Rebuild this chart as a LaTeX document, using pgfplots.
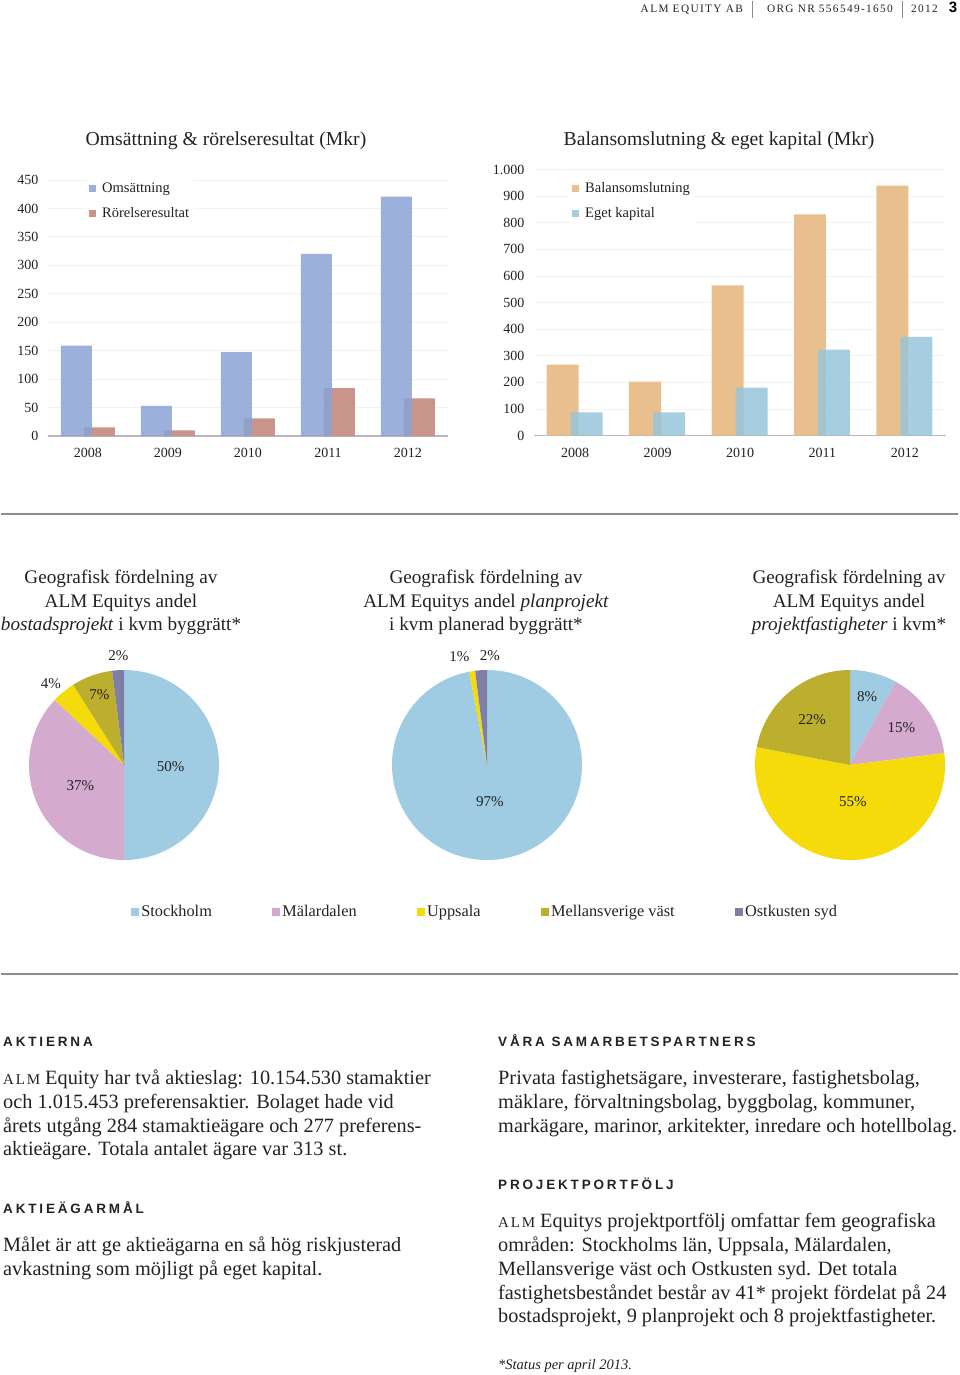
\documentclass[border=0pt]{standalone}
\usepackage{fontspec}
\setmainfont{Liberation Serif}
\newfontfamily\headsans[LetterSpace=21]{Liberation Sans}
\newfontfamily\scfont[LetterSpace=12]{Liberation Serif}
\newfontfamily\plainsans{Liberation Sans}
\usepackage{pgfplots}
\pgfplotsset{compat=1.18}
\pgfplotsset{/pgf/number format/assume math mode=true}
\newcommand{\fs}[1]{\fontsize{#1}{#1}\selectfont}
\newcommand{\alm}{{\scfont\fs{15}ALM}}

\definecolor{omsc}{HTML}{89A2D3}
\definecolor{rorc}{HTML}{C9958B}
\definecolor{balc}{HTML}{E9C08D}
\definecolor{egc}{HTML}{97C5DA}
\definecolor{sthlm}{HTML}{9FCCE2}
\definecolor{malar}{HTML}{D4AACE}
\definecolor{upps}{HTML}{F6DB0B}
\definecolor{mell}{HTML}{BDAF2E}
\definecolor{ostk}{HTML}{7F7EA6}
\definecolor{txt}{HTML}{222222}

\newcommand{\pieslices}[1]{%
  \pgfplotsextra{%
    \def\curang{90}%
    \foreach \v/\c in {#1}{%
      \pgfmathsetmacro\nextang{\curang-3.6*\v}%
      \fill[\c] (axis cs:0,0) -- ++(\curang:95pt) arc[start angle=\curang,end angle=\nextang,radius=95pt] -- cycle;
      \xdef\curang{\nextang}%
    }%
  }}

\pgfplotsset{
  barchart/.style={
    scale only axis,
    xmin=-0.5, xmax=4.5, ymin=0,
    xtick={0,1,2,3,4}, xticklabels={2008,2009,2010,2011,2012},
    axis lines*=left, separate axis lines,
    x axis line style={draw=black!28, line width=1.3pt},
    y axis line style={draw=none},
    major tick length=0pt,
    ymajorgrids, grid style={draw=black!5, line width=0.8pt},
    tick label style={font=\fs{14}, text=txt},
    yticklabel style={xshift=-6pt},
    xticklabel style={yshift=-9pt},
    legend style={anchor=north west, draw=none, fill=white, font=\fs{14.5}, row sep=9pt, inner sep=3pt, text=txt},
    legend cell align=left,
    legend image code/.code={\fill[##1] (0pt,-3.5pt) rectangle (7pt,3.5pt); \path (11pt,0pt);},
  },
  pieaxis/.style={scale only axis, width=190pt, height=190pt, xmin=-1, xmax=1, ymin=-1, ymax=1, hide axis, clip=false},
}

\begin{document}
\begin{tikzpicture}
\path[use as bounding box] (0pt,0pt) rectangle (960pt,-1375pt);

% ---------- header ----------
\node[anchor=base east, inner sep=0, text=txt] at (743pt,-13pt) {\scfont\fs{11.3}ALM EQUITY AB};
\node[anchor=base east, inner sep=0, text=txt] at (893pt,-13pt) {\scfont\fs{11.3}ORG NR 556549-1650};
\node[anchor=base west, inner sep=0, text=txt] at (911pt,-13pt) {\scfont\fs{11.3}2012};
\node[anchor=base east, inner sep=0, text=black] at (957.5pt,-13pt) {\plainsans\bfseries\fs{15}3};
\draw[black!45, line width=0.8pt] (752pt,-1pt) -- (752pt,-18pt);
\draw[black!45, line width=0.8pt] (902pt,-1pt) -- (902pt,-18pt);

% ---------- chart titles ----------
\node[text=txt, inner sep=0] at (226pt,-141pt) {\fs{19.7}Omsättning \& rörelseresultat (Mkr)};
\node[text=txt, inner sep=0] at (719pt,-141pt) {\fs{19.7}Balansomslutning \& eget kapital (Mkr)};

% ---------- chart 1 ----------
\begin{axis}[barchart,
  at={(48pt,-436pt)}, anchor=south west,
  width=400pt, height=256pt, ymax=450,
  ytick={0,50,...,450},
  legend style={at={(0.095,1.008)}},
  reverse legend,
]
\addplot[ybar, bar width=31pt, bar shift=11.5pt, fill=rorc, draw=none] coordinates {(0,15) (1,10) (2,31) (3,84) (4,66)};
\addlegendentry{Rörelseresultat}
\addplot[ybar, bar width=31pt, bar shift=-11.5pt, fill=omsc, fill opacity=0.85, draw=none] coordinates {(0,159) (1,53) (2,147.5) (3,320) (4,421)};
\addlegendentry{Omsättning}
\end{axis}

% ---------- chart 2 ----------
\begin{axis}[barchart,
  at={(534pt,-435.5pt)}, anchor=south west,
  width=412pt, height=266pt, ymax=1000,
  ytick={0,100,...,1000},
  /pgf/number format/1000 sep={.},
  legend style={at={(0.085,0.97)}},
]
\addplot[ybar, bar width=32pt, bar shift=-12.5pt, fill=balc, draw=none] coordinates {(0,266) (1,203) (2,564) (3,831) (4,939)};
\addlegendentry{Balansomslutning}
\addplot[ybar, bar width=32pt, bar shift=11.5pt, fill=egc, fill opacity=0.85, draw=none] coordinates {(0,86.5) (1,86.5) (2,180) (3,323) (4,371)};
\addlegendentry{Eget kapital}
\end{axis}

% ---------- separators ----------
\draw[black!45, line width=1.5pt] (1pt,-514pt) -- (958pt,-514pt);
\draw[black!45, line width=1.5pt] (1pt,-974pt) -- (958pt,-974pt);

% ---------- pie titles ----------
\node[anchor=north, align=center, inner sep=0, text=txt, font=\fs{19.2}, execute at begin node=\setlength{\baselineskip}{23.5pt}] at (121pt,-570pt)
  {Geografisk fördelning av\\ALM Equitys andel\\\textit{bostadsprojekt} i kvm byggrätt*};
\node[anchor=north, align=center, inner sep=0, text=txt, font=\fs{19.2}, execute at begin node=\setlength{\baselineskip}{23.5pt}] at (486pt,-570pt)
  {Geografisk fördelning av\\ALM Equitys andel \textit{planprojekt}\\i kvm planerad byggrätt*};
\node[anchor=north, align=center, inner sep=0, text=txt, font=\fs{19.2}, execute at begin node=\setlength{\baselineskip}{23.5pt}] at (849pt,-570pt)
  {Geografisk fördelning av\\ALM Equitys andel\\\textit{projektfastigheter} i kvm*};

% ---------- pie 1 ----------
\begin{axis}[pieaxis, at={(29pt,-860pt)}, anchor=south west]
\pieslices{50/sthlm,37/malar,4/upps,7/mell,2/ostk}
\node[font=\fs{15}, text=txt] at (axis cs:0.49,-0.02) {50\%};
\node[font=\fs{15}, text=txt] at (axis cs:-0.46,-0.22) {37\%};
\node[font=\fs{15}, text=txt] at (axis cs:-0.26,0.74) {7\%};
\node[font=\fs{15}, text=txt] at (axis cs:-0.77,0.86) {4\%};
\node[font=\fs{15}, text=txt] at (axis cs:-0.06,1.15) {2\%};
\end{axis}

% ---------- pie 2 ----------
\begin{axis}[pieaxis, at={(392pt,-860pt)}, anchor=south west,
  legend columns=5,
  legend style={at={(-1.389,-0.274)}, anchor=west, draw=none, fill=none, font=\fs{16.3}, text=txt,
    /tikz/every even column/.append style={column sep=58.5pt}},
  legend image code/.code={\fill[#1] (0pt,-4pt) rectangle (8pt,4pt);},
]
\pieslices{97/sthlm,1/upps,2/ostk}
\node[font=\fs{15}, text=txt] at (axis cs:0.03,-0.39) {97\%};
\node[font=\fs{15}, text=txt] at (axis cs:-0.29,1.14) {1\%};
\node[font=\fs{15}, text=txt] at (axis cs:0.03,1.15) {2\%};
\addlegendimage{fill=sthlm, draw=none}\addlegendentry{Stockholm}
\addlegendimage{fill=malar, draw=none}\addlegendentry{Mälardalen}
\addlegendimage{fill=upps, draw=none}\addlegendentry{Uppsala}
\addlegendimage{fill=mell, draw=none}\addlegendentry{Mellansverige väst}
\addlegendimage{fill=ostk, draw=none}\addlegendentry{Ostkusten syd}
\end{axis}

% ---------- pie 3 ----------
\begin{axis}[pieaxis, at={(755pt,-860pt)}, anchor=south west]
\pieslices{8/sthlm,15/malar,55/upps,22/mell}
\node[font=\fs{15}, text=txt] at (axis cs:0.18,0.72) {8\%};
\node[font=\fs{15}, text=txt] at (axis cs:0.54,0.39) {15\%};
\node[font=\fs{15}, text=txt] at (axis cs:-0.40,0.48) {22\%};
\node[font=\fs{15}, text=txt] at (axis cs:0.03,-0.39) {55\%};
\end{axis}

% ---------- text columns ----------
\begin{scope}[every node/.style={anchor=base west, inner sep=0, text=txt}]
\node at (3pt,-1046pt) {\headsans\bfseries\fs{13.5}AKTIERNA};
\node at (3pt,-1084pt) {\fs{20.3}\alm{} Equity har två aktieslag: 10.154.530 stamaktier};
\node at (3pt,-1108pt) {\fs{20.3}och 1.015.453 preferensaktier. Bolaget hade vid};
\node at (3pt,-1132pt) {\fs{20.3}årets utgång 284 stamaktieägare och 277 preferens-};
\node at (3pt,-1155pt) {\fs{20.3}aktieägare. Totala antalet ägare var 313 st.};
\node at (3pt,-1213pt) {\headsans\bfseries\fs{13.5}AKTIEÄGARMÅL};
\node at (3pt,-1251pt) {\fs{20.3}Målet är att ge aktieägarna en så hög riskjusterad};
\node at (3pt,-1275pt) {\fs{20.3}avkastning som möjligt på eget kapital.};

\node at (498pt,-1046pt) {\headsans\bfseries\fs{13.5}VÅRA SAMARBETSPARTNERS};
\node at (498pt,-1084pt) {\fs{20.3}Privata fastighetsägare, investerare, fastighetsbolag,};
\node at (498pt,-1108pt) {\fs{20.3}mäklare, förvaltningsbolag, byggbolag, kommuner,};
\node at (498pt,-1132pt) {\fs{20.3}markägare, marinor, arkitekter, inredare och hotellbolag.};
\node at (498pt,-1189pt) {\headsans\bfseries\fs{13.5}PROJEKTPORTFÖLJ};
\node at (498pt,-1227pt) {\fs{20.3}\alm{} Equitys projektportfölj omfattar fem geografiska};
\node at (498pt,-1251pt) {\fs{20.3}områden: Stockholms län, Uppsala, Mälardalen,};
\node at (498pt,-1275pt) {\fs{20.3}Mellansverige väst och Ostkusten syd. Det totala};
\node at (498pt,-1299pt) {\fs{20.3}fastighetsbeståndet består av 41* projekt fördelat på 24};
\node at (498pt,-1322pt) {\fs{20.3}bostadsprojekt, 9 planprojekt och 8 projektfastigheter.};
\node at (498pt,-1369pt) {\fs{14.5}\textit{*Status per april 2013.}};
\end{scope}
\end{tikzpicture}
\end{document}
